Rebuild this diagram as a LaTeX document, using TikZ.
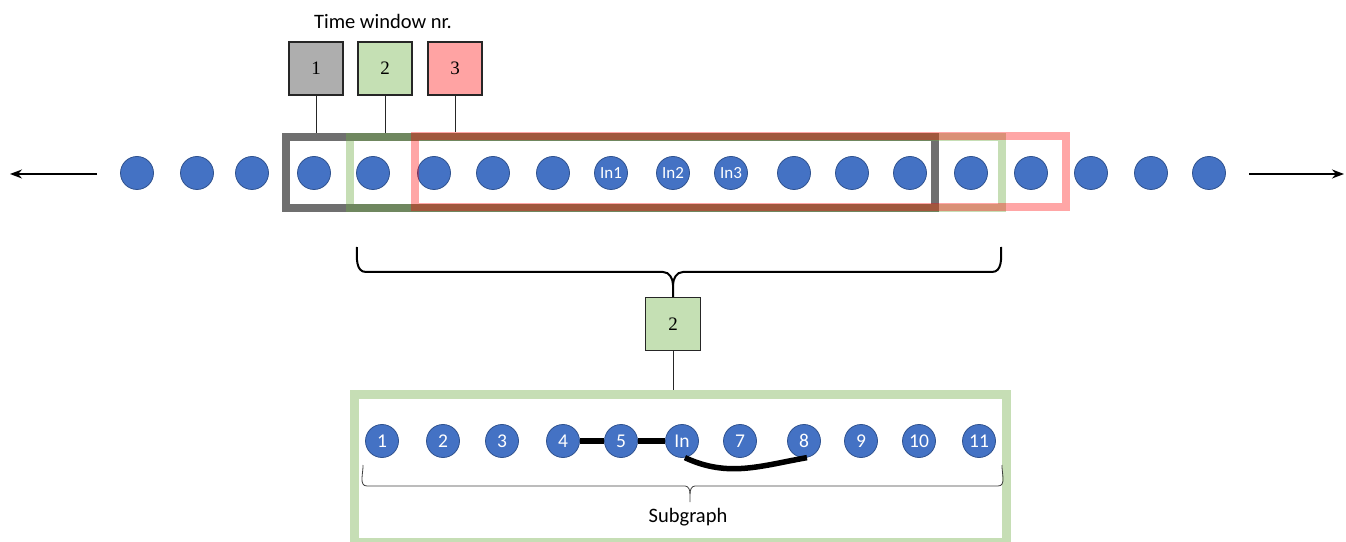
\documentclass[tikz,border=0pt]{standalone}
\usepackage{fontspec}
\setmainfont{Carlito}
\newfontfamily\numfont{Liberation Serif}
\usetikzlibrary{arrows.meta}
\definecolor{dotblue}{HTML}{4472C4}
\definecolor{dotedge}{HTML}{2F528F}
\definecolor{wingray}{HTML}{6F6F6F}
\definecolor{wingreen}{HTML}{70AD47}
\definecolor{winred}{HTML}{FF0000}
\definecolor{boxgray}{HTML}{AEAEAE}
\definecolor{boxgreen}{HTML}{C5E0B4}
\definecolor{boxred}{HTML}{FFA3A3}

\begin{document}
\begin{tikzpicture}[x=1pt, y=1pt,
    dot/.style={circle, draw=dotedge, fill=dotblue, line width=0.8pt, minimum size=33pt, inner sep=0pt, text=white},
    win/.style={rectangle, line width=8pt, inner sep=0pt, minimum height=71pt},
    tw/.style={rectangle, draw=black!85, line width=1.3pt, minimum width=54pt, minimum height=53pt, font=\numfont\fontsize{19}{19}\selectfont},
    link/.style={line width=5.5pt, black},
    brace/.style={line width=2pt, black},
    arr/.style={line width=1.6pt, -{Stealth[length=12pt, width=9pt]}}]
    \useasboundingbox (0,0) rectangle (1346,541);

    \foreach \x/\t [count=\i] in {137/{},197/{},252/{},314/{},373/{},434/{},493/{},553/{},611/In1,673/In2,731/In3,794/{},852/{},910/{},971/{},1031/{},1091/{},1151/{},1209/{}}
        \node[dot, font=\fontsize{17}{17}\selectfont] (c\i) at (\x,368) {\t};

    \node[win, draw=wingray, minimum width=649pt] (win1) at (610.5,368.5) {};
    \node[win, draw=wingreen, draw opacity=.4, minimum width=652pt] (win2) at (676,368.5) {};
    \node[win, draw=winred, draw opacity=.35, minimum width=651pt] (win3) at (740,369.5) {};

    \node[font=\fontsize{20.5}{24}\selectfont] (title) at (383,520) {Time window nr.};
    \node[tw, fill=boxgray] (t1) at (316,472.5) {1};
    \node[tw, fill=boxgreen] (t2) at (385,472.5) {2};
    \node[tw, fill=boxred] (t3) at (455,472.5) {3};
    \draw[black!85] (t1) -- (t1 |- win1.north);
    \draw[black!85] (t2) -- (t2 |- win2.north);
    \draw[black!85] (t3) -- (t3 |- win3.north);

    \coordinate (la) at (97,367);
    \coordinate (lb) at (10,367);
    \coordinate (ra) at (1249,367);
    \coordinate (rb) at (1344,367);
    \draw[arr] (la) -- (lb);
    \draw[arr] (ra) -- (rb);

    \coordinate (btip) at (673,244);
    \draw[brace] (357,294) to[out=-92,in=180] (366,269) -- (663,269) to[out=0,in=90] (673,256) -- (btip);
    \draw[brace] (1001,294) to[out=-88,in=0] (992,269) -- (683,269) to[out=180,in=90] (673,256);
    \node[tw, fill=boxgreen, anchor=north, minimum width=55pt] (b2) at (btip) {2};

    \node[win, draw=wingreen, draw opacity=.4, line width=9pt, minimum width=652pt, minimum height=147pt] (sub) at (680.5,72.5) {};
    \draw[black!85] (b2) -- (b2 |- sub.north);

    \foreach \x/\t [count=\i] in {382/1,443/2,502/3,563/4,621/5,682/In,740/7,804/8,861/9,919/10,979/11}
        \node[dot, font=\fontsize{19.5}{20}\selectfont] (s\i) at (\x,100) {\t};
    \draw[link] (s4) -- (s5);
    \draw[link] (s5) -- (s6);
    \draw[link] (s6.-80) to[out=-25,in=190] (s8.-80);

    \draw[black!75, line width=0.8pt] (363,76) to[out=-88,in=180] (367,55) -- (685,55) to[out=0,in=90] (690,47) -- (690,39);
    \draw[black!75, line width=0.8pt] (1002,76) to[out=-92,in=0] (998,55) -- (695,55) to[out=180,in=90] (690,47);
    \node[font=\fontsize{20.5}{24}\selectfont] (lbl) at (688,24) {Subgraph};
\end{tikzpicture}
\end{document}
